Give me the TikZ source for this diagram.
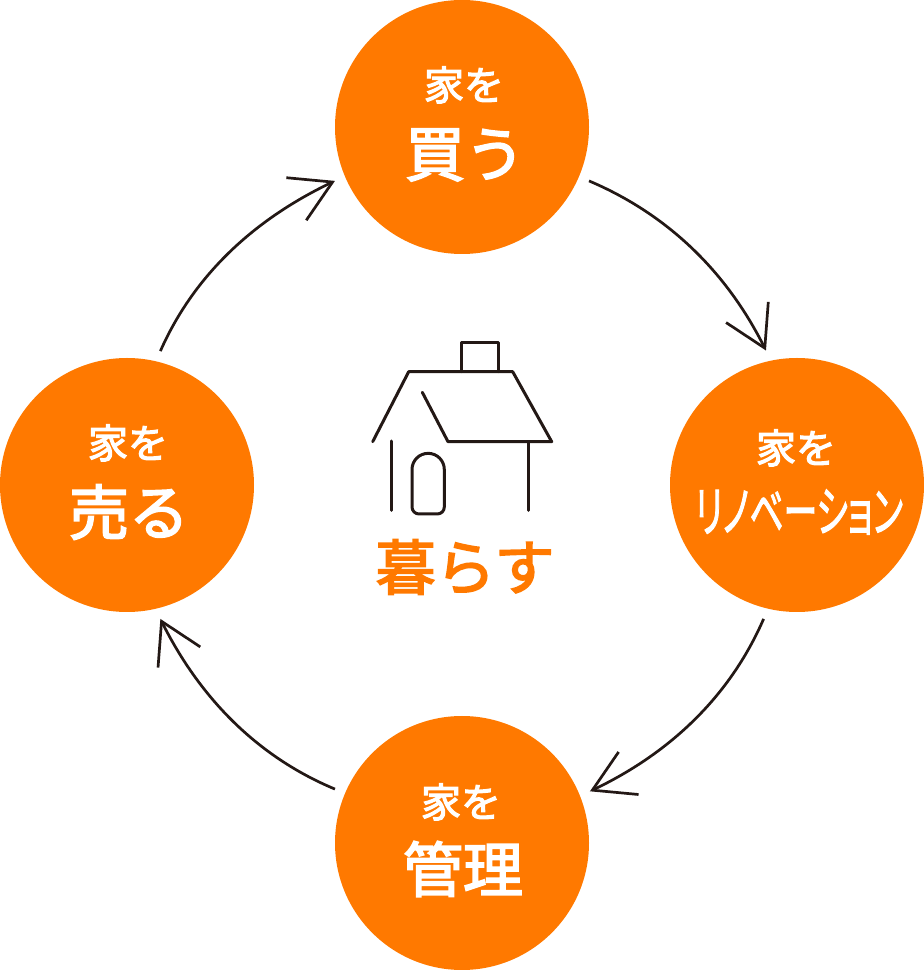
\documentclass[tikz,border=0pt]{standalone}
\usepackage{fontspec}
\newfontfamily\jpfont[FakeBold=2.8]{Noto Sans CJK JP}
\newfontfamily\jpnarrow[RawFeature=+palt,FakeBold=2.2]{Noto Sans CJK JP}
\usetikzlibrary{arrows.meta,bending}
\definecolor{stageorange}{HTML}{FF7900}
\definecolor{inkline}{HTML}{231815}
\tikzset{
stage/.style={
  circle,
  fill=stageorange,
  inner sep=0pt,
  outer sep=11pt,
  minimum size=254pt
  },
smalltxt/.style={text=white,font=\jpfont\fontsize{40}{40}\selectfont},
bigtxt/.style={text=white,font=\jpfont\fontsize{60}{60}\selectfont},
flow/.style={
  draw=inkline,
  line width=2.7pt,
  looseness=0.9,
  -{Straight Barb[length=40pt,width=47pt]}
  },
house/.style={draw=inkline,line width=3pt,line cap=round,line join=round}
}

\begin{document}
\begin{tikzpicture}[x=1pt,y=1pt]
\useasboundingbox (0,0) rectangle (924,970);

\node[stage] (buy) at (462,843) {};
\node[stage] (reno) at (797,485) {};
\node[stage] (manage) at (462,127) {};
\node[stage] (sell) at (127,485) {};

\node[smalltxt] (buy1) at ([xshift=2pt,yshift=42pt]buy) {家を};
\node[bigtxt] (buy2) at ([xshift=3pt,yshift=-28pt]buy) {買う};
\node[smalltxt] (reno1) at ([xshift=-1pt,yshift=37pt]reno) {家を};
\node[text=white,font=\jpnarrow\fontsize{37}{37}\selectfont] (reno2) at ([xshift=2pt,yshift=-27pt]reno)
  {\resizebox{208pt}{42pt}{リノベーション}};
\node[smalltxt] (manage1) at ([xshift=-1pt,yshift=41pt]manage) {家を};
\node[bigtxt] (manage2) at ([xshift=1pt,yshift=-26pt]manage) {管理};
\node[smalltxt] (sell1) at ([xshift=1pt,yshift=42pt]sell) {家を};
\node[bigtxt] (sell2) at ([xshift=2pt,yshift=-27pt]sell) {売る};

\draw[flow] (buy.-23) to[out=-23,in=116] (reno.103.5);
\draw[flow] (reno.256.4) to[out=-113.5,in=25] (manage.22.7);
\draw[flow] (manage.157.3) to[out=157.4,in=296] (sell.-76.8);
\draw[flow] (sell.76) to[out=66.2,in=205] (buy.203);

% house
\draw[house] (461.7,598.3) -- (461.7,627.3) -- (498.7,627.3) -- (498.7,598.3);
\draw[house] (372.7,528.3) -- (408.7,598.3) -- (512.7,598.3) -- (551.7,528.3) -- (448,528.3) -- (422.3,577.7);
\draw[house] (391.3,529) -- (391.3,459.7);
\draw[house] (528.3,528.3) -- (528.3,459.7);
\draw[house] (412,500.5) arc[start angle=180,end angle=0,radius=16.15] -- (444.3,463) arc[start angle=0,end angle=-90,radius=7] -- (419,456) arc[start angle=270,end angle=180,radius=7] -- cycle;

\node[text=stageorange,font=\jpfont\fontsize{60}{60}\selectfont] (live) at (465,403) {暮らす};
\end{tikzpicture}
\end{document}
